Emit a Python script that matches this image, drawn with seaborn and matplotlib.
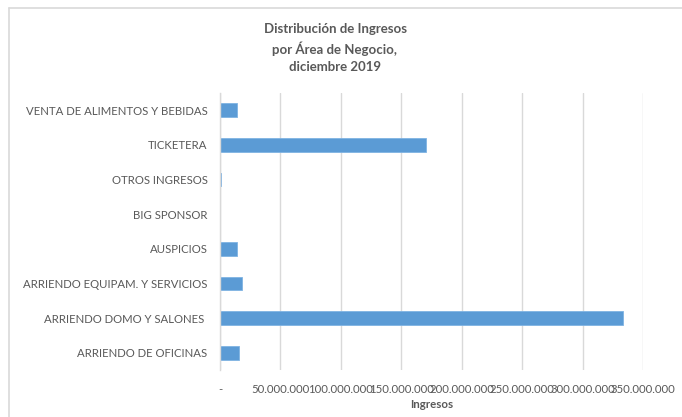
import matplotlib
matplotlib.use("Agg")
import matplotlib.pyplot as plt
import matplotlib.ticker as mticker
import pandas as pd
import seaborn as sns
from matplotlib.lines import Line2D

sns.set_theme(style="white")
plt.rcParams["font.family"] = ["Lato", "DejaVu Sans"]

# data (CLP)
areas = [
    "VENTA DE ALIMENTOS Y BEBIDAS",
    "TICKETERA",
    "OTROS INGRESOS",
    "BIG SPONSOR",
    "AUSPICIOS",
    "ARRIENDO EQUIPAM. Y SERVICIOS",
    "ARRIENDO DOMO Y SALONES ",
    "ARRIENDO DE OFICINAS",
]
ingresos = [14300000, 170000000, 1200000, 0, 14300000, 18500000, 333000000, 15500000]
x_ticks = [0, 50e6, 100e6, 150e6, 200e6, 250e6, 300e6, 350e6]

df = pd.DataFrame({"Area": areas, "Ingresos": ingresos})

text_col = "#595959"
grid_col = "#D9D9D9"

fig = plt.figure(figsize=(6.82, 4.17), dpi=100)
ax = fig.add_axes([220 / 682, 1 - 370 / 417, (643.3 - 220) / 682, (370 - 93) / 417])

sns.barplot(data=df, y="Area", x="Ingresos", orient="h", color="#5B9BD5",
            width=0.4, saturation=1, edgecolor="#7FB3E3", linewidth=0.6, ax=ax)

ax.set_xlim(0, 350e6)
ax.set_xticks(x_ticks)


def fmt(v, pos):
    if v == 0:
        return "-"
    return f"{int(v):,}".replace(",", ".")


ax.xaxis.set_major_formatter(mticker.FuncFormatter(fmt))
ax.grid(axis="x", color=grid_col, linewidth=1)
ax.set_axisbelow(True)
for side in ["top", "right", "bottom"]:
    ax.spines[side].set_visible(False)
ax.spines["left"].set_color(grid_col)
ax.spines["left"].set_linewidth(1)

ax.tick_params(axis="both", length=0, colors=text_col, labelsize=8.2)
ax.tick_params(axis="x", pad=10)
ax.tick_params(axis="y", pad=9)
ax.set_ylabel("")
ax.set_xlabel("Ingresos", color=text_col, fontsize=8.3, fontweight="bold", labelpad=3)

fig.text(335 / 682, 1 - 48 / 417, "Distribución de Ingresos\npor Área de Negocio,\ndiciembre 2019",
         ha="center", va="center", color=text_col, fontsize=9.5, fontweight="bold",
         linespacing=1.5)

# chart frame
fig.add_artist(Line2D([9 / 682, 9 / 682], [0, 1 - 8 / 417], color=grid_col, linewidth=1.2,
                      transform=fig.transFigure))
fig.add_artist(Line2D([9 / 682, 1], [1 - 8 / 417, 1 - 8 / 417], color=grid_col, linewidth=1.2,
                      transform=fig.transFigure))

fig.savefig("out.png", dpi=100)
